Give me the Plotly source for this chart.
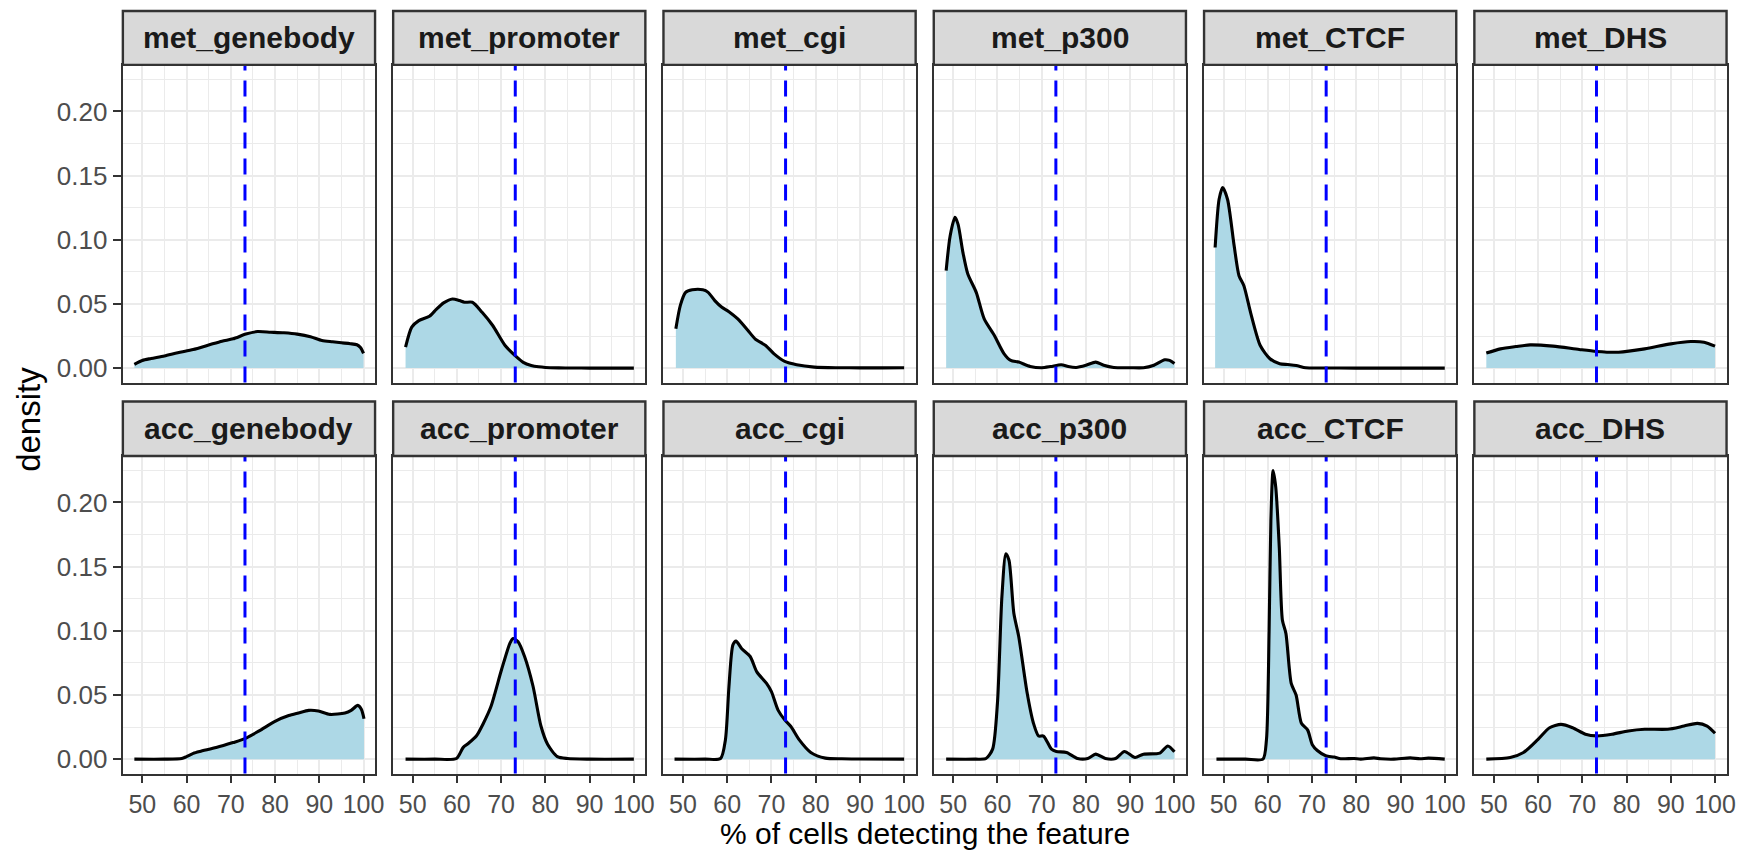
import plotly.graph_objects as go

# ---------------- data ----------------
facet_names = ["met_genebody", "met_promoter", "met_cgi", "met_p300", "met_CTCF", "met_DHS",
               "acc_genebody", "acc_promoter", "acc_cgi", "acc_p300", "acc_CTCF", "acc_DHS"]

threshold = 73.2

x_ticks = [50, 60, 70, 80, 90, 100]
y_ticks = [0.0, 0.05, 0.10, 0.15, 0.20]
y_tick_labels = ["0.00", "0.05", "0.10", "0.15", "0.20"]

met_genebody_x = [48.2, 50, 52, 55, 58, 61.5, 65, 68, 70.5, 73.4, 76, 79, 82, 85, 88, 90.6, 93, 95, 97, 98.5, 99.3, 100]
met_genebody_y = [0.003, 0.006, 0.0075, 0.0095, 0.012, 0.0145, 0.018, 0.021, 0.0228, 0.0265, 0.0285, 0.028, 0.0275,
                  0.0265, 0.0245, 0.0215, 0.0205, 0.0197, 0.019, 0.0182, 0.016, 0.0115]

met_promoter_x = [48.4, 49.8, 51.4, 53.8, 55.4, 57, 59, 60.6, 61.7, 63.5, 65.7, 68.1, 70.9, 73.3, 75, 76.8, 78.5,
                  80, 83, 86, 90, 95, 100]
met_promoter_y = [0.0163, 0.0319, 0.037, 0.0404, 0.046, 0.0508, 0.0539, 0.0526, 0.0513, 0.0513, 0.0435, 0.0332,
                  0.0176, 0.0093, 0.0045, 0.0021, 0.001, 0.0005, 0.0002, 0.0001, 0.0, 0.0, 0.0]

met_cgi_x = [48.4, 49.4, 50.6, 52.1, 54.5, 55.7, 57.2, 58.8, 60.4, 62.4, 64.7, 66.3, 68.7, 70.6, 73, 75.7, 79.7,
             85.2, 90, 95, 100]
met_cgi_y = [0.0306, 0.0487, 0.059, 0.061, 0.061, 0.059, 0.0526, 0.0474, 0.044, 0.0383, 0.0293, 0.0228, 0.0176,
             0.0111, 0.0052, 0.0026, 0.0008, 0.0003, 0.0002, 0.0002, 0.0003]

met_p300_x = [48.4, 49.3, 50.4, 51.1, 52.2, 53.3, 55.2, 57, 59.3, 61.5, 63, 64.8, 67.4, 70, 72, 74.4, 76, 77.8, 80,
              82.2, 84, 86.3, 90, 93, 95.2, 97.8, 98.9, 100]
met_p300_y = [0.0759, 0.103, 0.1175, 0.112, 0.090, 0.0733, 0.059, 0.0383, 0.0254, 0.0111, 0.006, 0.0047, 0.0013,
              0.0003, 0.0012, 0.0026, 0.0012, 0.0005, 0.0022, 0.0047, 0.0022, 0.0005, 0.0003, 0.0003, 0.002,
              0.0065, 0.006, 0.0036]

met_CTCF_x = [48.1, 49, 49.8, 50.9, 52.4, 53.5, 54.6, 56.1, 58.3, 60.5, 62.7, 64.5, 66.4, 68.6, 72, 80, 90, 100]
met_CTCF_y = [0.094, 0.1316, 0.1407, 0.1316, 0.0953, 0.072, 0.0642, 0.0435, 0.0176, 0.0073, 0.0034, 0.0028,
              0.0021, 0.0003, 0.0001, 0.0, 0.0, 0.0]

met_DHS_x = [48.3, 51.5, 55, 58.2, 63.4, 69.3, 73.2, 78.2, 84.1, 90, 94.5, 97.5, 100]
met_DHS_y = [0.0117, 0.015, 0.0168, 0.0181, 0.0171, 0.0145, 0.013, 0.0124, 0.015, 0.0189, 0.0207, 0.0202, 0.0171]

acc_genebody_x = [48.2, 55, 58.9, 60, 61.5, 63, 66.7, 70.5, 73.2, 76.4, 80.1, 83.1, 85.3, 87.6, 89.8, 92.4, 95.8,
                  97.2, 98.7, 99.5, 100.1]
acc_genebody_y = [0, 0, 0.0005, 0.002, 0.0045, 0.006, 0.009, 0.0129, 0.016, 0.022, 0.0297, 0.034, 0.036, 0.038,
                  0.0375, 0.0349, 0.036, 0.038, 0.0419, 0.0388, 0.0315]

acc_promoter_x = [48.4, 55, 59.9, 61.4, 62.5, 64.4, 66, 67.7, 70.1, 72, 72.7, 73.8, 75.3, 77.2, 79, 80.5, 82.7, 85,
                  90, 100]
acc_promoter_y = [0, 0, 0.0005, 0.009, 0.012, 0.018, 0.028, 0.041, 0.0698, 0.0904, 0.094, 0.0917, 0.080, 0.057,
                  0.0258, 0.0116, 0.002, 0.0005, 0, 0]

acc_cgi_x = [48.1, 55, 58.5, 59.6, 60.4, 61.3, 62, 63.3, 65.2, 66.7, 68.9, 70, 71.5, 73, 74.4, 76.3, 78.9, 82.2,
             85.9, 90, 100]
acc_cgi_y = [0, 0, 0.0005, 0.015, 0.0565, 0.089, 0.092, 0.086, 0.080, 0.068, 0.059, 0.0526, 0.0382, 0.0306,
             0.0254, 0.015, 0.0052, 0.0008, 0.0003, 0.0001, 0]

acc_p300_x = [48.4, 55, 57.4, 58.9, 60, 61, 61.9, 62.6, 63.7, 64.8, 66.7, 68.1, 69.3, 70.4, 72.2, 73.3, 75.6, 78.1,
              80.4, 82.2, 84.4, 86.7, 88.7, 91.1, 93, 96.7, 98.5, 100]
acc_p300_y = [0, 0, 0.0005, 0.0078, 0.044, 0.1266, 0.160, 0.155, 0.1137, 0.0956, 0.0517, 0.0284, 0.018, 0.018,
              0.0078, 0.006, 0.0052, 0.0005, 0.0005, 0.0039, 0.0005, 0.0005, 0.006, 0.0013, 0.0039, 0.0047,
              0.0103, 0.0057]

acc_CTCF_x = [48.4, 55, 58.9, 59.7, 60.3, 60.7, 61.2, 61.8, 62.6, 63.3, 64.1, 65.3, 66.4, 67.6, 69, 70.1, 71.2,
              73.1, 75, 76.5, 79.5, 81, 84, 85.5, 88.5, 92.2, 94.4, 96.3, 100]
acc_CTCF_y = [0, 0, 0, 0.015, 0.1, 0.186, 0.2248, 0.212, 0.165, 0.1085, 0.098, 0.059, 0.05, 0.028, 0.0228, 0.011,
              0.0067, 0.0026, 0.0016, 0.0003, 0.0005, 0, 0.001, 0.0003, 0, 0.001, 0.0003, 0.0008, 0]

acc_DHS_x = [48.3, 53.7, 56.7, 60, 62.6, 65.2, 67.8, 70.7, 73.3, 76.7, 80.4, 84.1, 89.3, 93, 96, 98.2, 100]
acc_DHS_y = [0, 0.0013, 0.0052, 0.0155, 0.0245, 0.0271, 0.0245, 0.0194, 0.0181, 0.0194, 0.022, 0.0233, 0.0233,
             0.0258, 0.0279, 0.0258, 0.0202]

curves = [
    (met_genebody_x, met_genebody_y), (met_promoter_x, met_promoter_y), (met_cgi_x, met_cgi_y),
    (met_p300_x, met_p300_y), (met_CTCF_x, met_CTCF_y), (met_DHS_x, met_DHS_y),
    (acc_genebody_x, acc_genebody_y), (acc_promoter_x, acc_promoter_y), (acc_cgi_x, acc_cgi_y),
    (acc_p300_x, acc_p300_y), (acc_CTCF_x, acc_CTCF_y), (acc_DHS_x, acc_DHS_y),
]

# ---------------- layout geometry (pixels) ----------------
W, H = 1746, 850
panel_w = 253.5
col_left = [123.5 + 271.7 * c for c in range(6)]
row_panel = [(65, 383), (456.5, 774.5)]      # top, bottom of panels
row_strip = [(11, 65), (402, 456.5)]          # top, bottom of strips

FONT = "Liberation Sans, Arial, Helvetica, sans-serif"
GRID = "#EBEBEB"
BORDER = "#333333"

fig = go.Figure()
layout = dict(
    width=W, height=H,
    margin=dict(l=0, r=0, t=0, b=0),
    paper_bgcolor="white", plot_bgcolor="white",
    showlegend=False,
    font=dict(family=FONT),
)
shapes = []
annotations = []

for i, (name, (xs, ys)) in enumerate(zip(facet_names, curves)):
    r, c = divmod(i, 6)
    sfx = "" if i == 0 else str(i + 1)
    xa, ya = "x" + sfx, "y" + sfx
    fig.add_trace(go.Scatter(
        x=xs, y=ys, xaxis=xa, yaxis=ya, mode="lines",
        line=dict(color="black", width=3.1, shape="spline", smoothing=0.7),
        fill="tozeroy", fillcolor="#ADD8E6", hoverinfo="skip",
    ))
    x0p = col_left[c] / W
    x1p = (col_left[c] + panel_w) / W
    top, bot = row_panel[r]
    layout["xaxis" + sfx] = dict(
        domain=[x0p, x1p], anchor=ya, range=[45.6, 102.6],
        tickmode="array", tickvals=x_ticks,
        showticklabels=(r == 1), ticks="outside" if r == 1 else "",
        ticklen=7, tickwidth=2.4, tickcolor=BORDER,
        tickfont=dict(family=FONT, size=25, color="#4D4D4D"),
        showgrid=True, gridcolor=GRID, gridwidth=2.2,
        minor=dict(tickvals=[55, 65, 75, 85, 95], showgrid=True, gridcolor=GRID, gridwidth=1.2, ticks=""),
        showline=True, mirror=True, linecolor=BORDER, linewidth=2.4,
        zeroline=False, fixedrange=True,
    )
    layout["yaxis" + sfx] = dict(
        domain=[(H - bot) / H, (H - top) / H], anchor=xa, range=[-0.01125, 0.23625],
        tickmode="array", tickvals=y_ticks, ticktext=y_tick_labels,
        showticklabels=(c == 0), ticks="outside" if c == 0 else "",
        ticklen=8, tickwidth=2.4, tickcolor=BORDER,
        tickfont=dict(family=FONT, size=26, color="#4D4D4D"),
        showgrid=True, gridcolor=GRID, gridwidth=2.2,
        minor=dict(tickvals=[0.025, 0.075, 0.125, 0.175, 0.225], showgrid=True, gridcolor=GRID,
                   gridwidth=1.2, ticks=""),
        showline=True, mirror=True, linecolor=BORDER, linewidth=2.4,
        zeroline=False, fixedrange=True,
    )
    # threshold line
    shapes.append(dict(type="line", xref=xa, yref=ya + " domain", x0=threshold, x1=threshold, y0=0, y1=1,
                       line=dict(color="#0000FF", width=3, dash="16px,10px"), layer="above"))
    # strip
    st, sb = row_strip[r]
    shapes.append(dict(type="rect", xref="paper", yref="paper", x0=x0p, x1=x1p,
                       y0=(H - sb) / H, y1=(H - st) / H,
                       fillcolor="#D9D9D9", line=dict(color=BORDER, width=2.4), layer="above"))
    annotations.append(dict(text="<b>" + name + "</b>", xref="paper", yref="paper",
                            x=(x0p + x1p) / 2, y=(H - (st + sb) / 2) / H,
                            xanchor="center", yanchor="middle", showarrow=False,
                            font=dict(family=FONT, size=30, color="#1A1A1A")))

annotations.append(dict(text="% of cells detecting the feature", xref="paper", yref="paper",
                        x=(col_left[0] + col_left[5] + panel_w) / 2 / W, y=(H - 834) / H,
                        xanchor="center", yanchor="middle", showarrow=False,
                        font=dict(family=FONT, size=30, color="black")))
annotations.append(dict(text="density", xref="paper", yref="paper",
                        x=28.5 / W, y=(H - 420) / H, textangle=-90,
                        xanchor="center", yanchor="middle", showarrow=False,
                        font=dict(family=FONT, size=33, color="black")))

layout["shapes"] = shapes
layout["annotations"] = annotations
fig.update_layout(**layout)
fig.write_html("out.html")
